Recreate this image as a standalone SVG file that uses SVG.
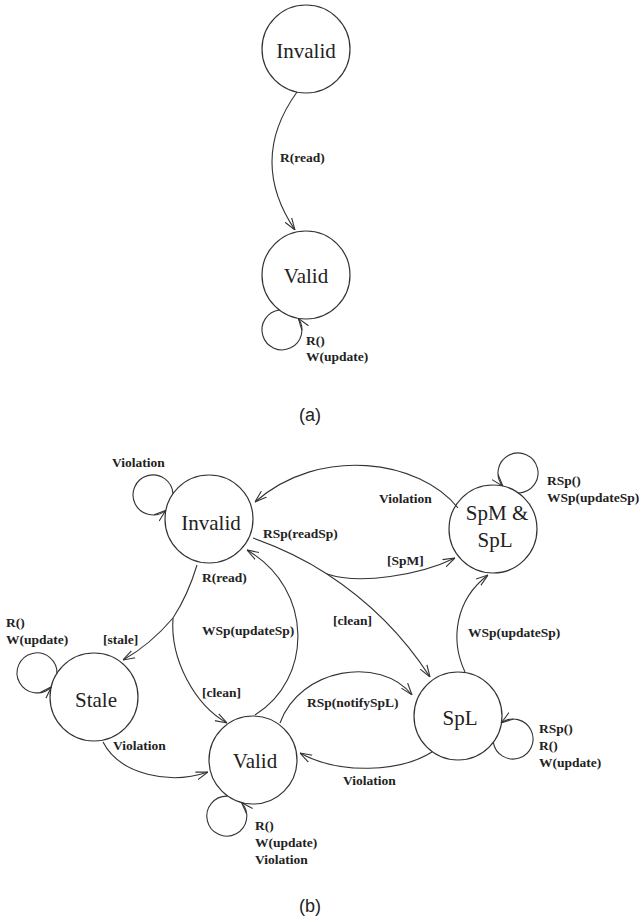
<svg xmlns="http://www.w3.org/2000/svg" width="642" height="920" viewBox="0 0 642 920">
<style>
.node{fill:none;stroke:#333;stroke-width:1.2}
.edge{fill:none;stroke:#333;stroke-width:1.1}
.arr{marker-end:url(#ah)}
.st{font-family:"Liberation Serif",serif;font-size:21px;fill:#222;text-anchor:middle}
.lb{font-family:"Liberation Serif",serif;font-size:13.5px;font-weight:bold;fill:#222}
.cap{font-family:"Liberation Sans",sans-serif;font-size:18px;fill:#222;text-anchor:middle}
</style>
<defs>
<marker id="ah" viewBox="0 0 12 10" refX="12" refY="5" markerWidth="12" markerHeight="10" markerUnits="userSpaceOnUse" orient="auto">
<path d="M0,1 L12,5 L0,9" fill="none" stroke="#333" stroke-width="1.1"/>
</marker>
</defs>

<!-- (a) -->
<g id="a-invalid"><circle class="node" cx="306" cy="49" r="44"/><text class="st" x="306" y="58">Invalid</text></g>
<g id="a-valid"><circle class="node" cx="306" cy="275" r="44"/><text class="st" x="306" y="283">Valid</text></g>
<g id="a-edges">
<path class="edge arr" d="M297,92 Q248,160 295,230"/>
<path class="edge arr" d="M279.5,310 A20,20 0 1 0 298.3,318.3"/>
</g>
<g id="a-labels">
<text class="lb" x="280" y="162">R(read)</text>
<text class="lb" x="306" y="345">R()</text>
<text class="lb" x="306" y="361">W(update)</text>
<text class="cap" x="310" y="421">(a)</text>
</g>

<!-- (b) nodes -->
<g id="b-invalid"><circle class="node" cx="209" cy="519" r="44"/><text class="st" x="211" y="530">Invalid</text></g>
<g id="b-spm"><circle class="node" cx="493" cy="529" r="44"/><text class="st" x="497" y="520">SpM &amp;</text><text class="st" x="495" y="547">SpL</text></g>
<g id="b-stale"><circle class="node" cx="94" cy="697" r="44"/><text class="st" x="96" y="707">Stale</text></g>
<g id="b-valid"><circle class="node" cx="253" cy="760" r="44"/><text class="st" x="255" y="768">Valid</text></g>
<g id="b-spl"><circle class="node" cx="458" cy="716" r="44"/><text class="st" x="460" y="725">SpL</text></g>

<!-- (b) connectors -->
<g id="b-edges">
<path class="edge arr" d="M173,493.7 A20,20 0 1 0 165.8,510.3"/>
<path class="edge arr" d="M518.3,493 A20,20 0 1 0 502.9,486.1"/>
<path class="edge arr" d="M57,674 A20,20 0 1 0 51.4,686.8"/>
<path class="edge arr" d="M227.5,796.1 A20,20 0 1 0 241.5,802.5"/>
<path class="edge arr" d="M493.3,742.3 A20,20 0 1 0 501.5,722.7"/>
<path class="edge arr" d="M458,508 C420,460 320,445 255,502"/>
<path class="edge" d="M253,538 Q295,553 327,574"/>
<path class="edge arr" d="M327,574 C360,585 420,575 455,558"/>
<path class="edge arr" d="M327,574 Q390,615 430,677"/>
<path class="edge" d="M197,565 Q188,595 173,618"/>
<path class="edge arr" d="M173,618 Q150,645 123,660"/>
<path class="edge arr" d="M173,618 C170,660 195,705 227,723"/>
<path class="edge arr" d="M255,715 C312,680 315,590 247,550"/>
<path class="edge arr" d="M103,742 C120,775 170,785 208,772"/>
<path class="edge arr" d="M280,723 C300,668 380,655 412,695"/>
<path class="edge arr" d="M465,672 C450,640 455,600 488,575"/>
<path class="edge arr" d="M432,752 C400,772 340,775 300,753"/>
</g>

<!-- (b) labels -->
<g id="b-labels">
<text class="lb" x="112" y="467">Violation</text>
<text class="lb" x="263" y="538">RSp(readSp)</text>
<text class="lb" x="379" y="503">Violation</text>
<text class="lb" x="547" y="485">RSp()</text>
<text class="lb" x="547" y="502">WSp(updateSp)</text>
<text class="lb" x="387" y="565">[SpM]</text>
<text class="lb" x="202" y="582">R(read)</text>
<text class="lb" x="333" y="625">[clean]</text>
<text class="lb" x="202" y="635">WSp(updateSp)</text>
<text class="lb" x="468" y="637">WSp(updateSp)</text>
<text class="lb" x="6" y="627">R()</text>
<text class="lb" x="6" y="644">W(update)</text>
<text class="lb" x="103" y="644">[stale]</text>
<text class="lb" x="202" y="697">[clean]</text>
<text class="lb" x="307" y="707">RSp(notifySpL)</text>
<text class="lb" x="539" y="733">RSp()</text>
<text class="lb" x="539" y="750">R()</text>
<text class="lb" x="539" y="767">W(update)</text>
<text class="lb" x="113" y="750">Violation</text>
<text class="lb" x="343" y="785">Violation</text>
<text class="lb" x="255" y="830">R()</text>
<text class="lb" x="255" y="847">W(update)</text>
<text class="lb" x="255" y="864">Violation</text>
<text class="cap" x="310" y="912">(b)</text>
</g>
</svg>
